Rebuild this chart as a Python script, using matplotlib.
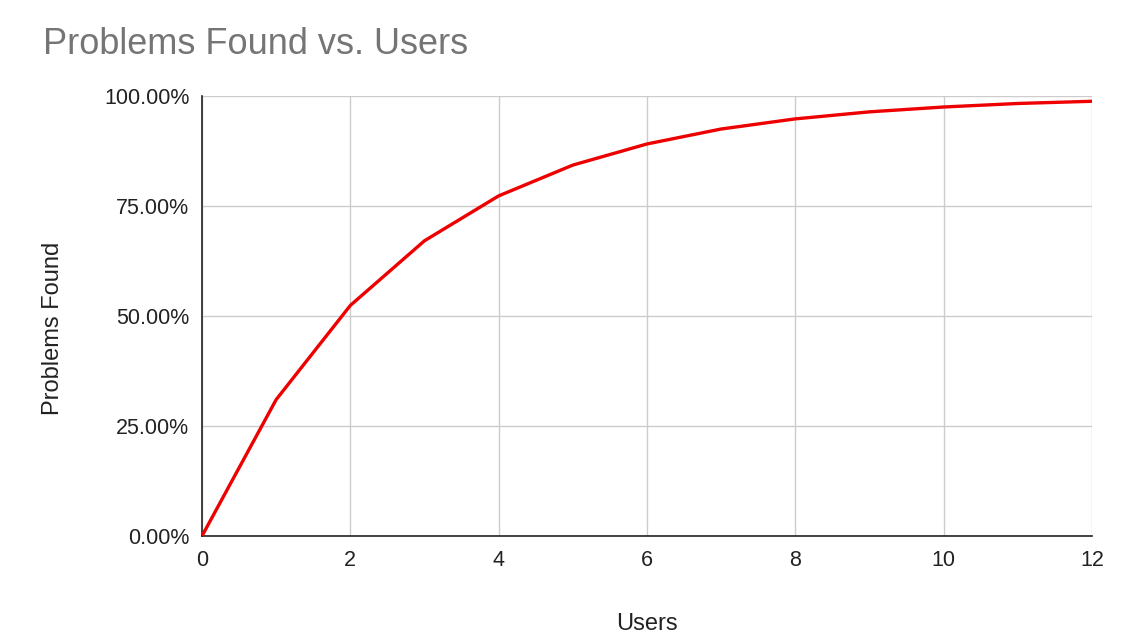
import matplotlib
matplotlib.use("Agg")
import matplotlib.pyplot as plt
from matplotlib.ticker import PercentFormatter

# users vs share of problems found
users = [0, 1, 2, 3, 4, 5, 6, 7, 8, 9, 10, 11, 12]
found = [0.0, 31.0, 52.4, 67.1, 77.3, 84.3, 89.1, 92.5, 94.8, 96.4, 97.5, 98.3, 98.8]

plt.rcParams['font.family'] = ['Liberation Sans', 'DejaVu Sans']

fig = plt.figure(figsize=(11.38, 6.4), dpi=100)
ax = fig.add_axes([0.1775, 0.1625, 0.7821, 0.6875])

ax.plot(users, found, color='#ee0000', lw=2.4, solid_capstyle='round', zorder=3)

ax.set_xlim(0, 12)
ax.set_ylim(0, 100)
ax.set_xticks([0, 2, 4, 6, 8, 10, 12])
ax.set_yticks([0, 25, 50, 75, 100])
ax.yaxis.set_major_formatter(PercentFormatter(decimals=2))
ax.grid(True, color='#cccccc', lw=1)
ax.set_axisbelow(True)

for s in ['top', 'right']:
    ax.spines[s].set_visible(False)
for s in ['left', 'bottom']:
    ax.spines[s].set_color('#222222')
    ax.spines[s].set_linewidth(1.2)
ax.tick_params(length=0, labelsize=15.5, colors='#222222')
ax.tick_params(axis='x', pad=10)
ax.tick_params(axis='y', pad=9)

ax.set_xlabel("Users", fontsize=17, color='#222222')
ax.xaxis.set_label_coords(0.5, -0.175)
ax.set_ylabel("Problems Found", fontsize=17, color='#222222')
ax.yaxis.set_label_coords(-0.155, 0.472)
fig.text(0.038, 0.93, "Problems Found vs. Users", fontsize=26, color='#757575',
         ha='left', va='center')

fig.savefig("out.png", dpi=100)
